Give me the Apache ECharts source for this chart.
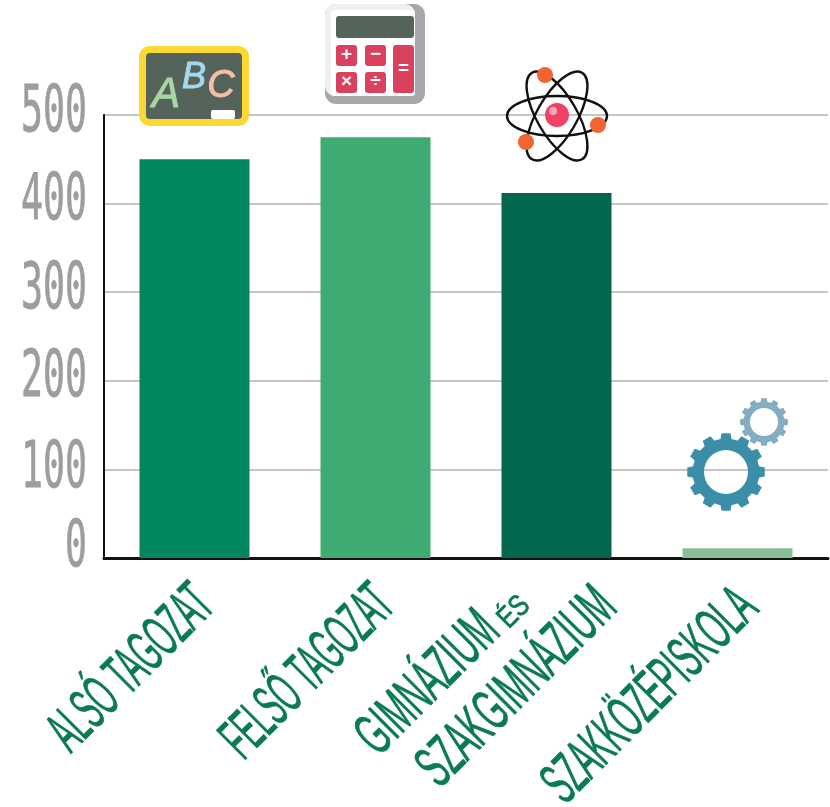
<!DOCTYPE html>
<html><head><meta charset="utf-8">
<style>html,body{margin:0;padding:0;background:#fff}#c{width:830px;height:807px}</style>
<script src="https://cdn.jsdelivr.net/npm/echarts@6/dist/echarts.min.js"></script>
</head><body><div id="c"></div>
<script>
const categories = ['ALSÓ TAGOZAT', 'FELSŐ TAGOZAT', 'GIMNÁZIUM ÉS SZAKGIMNÁZIUM', 'SZAKKÖZÉPISKOLA'];
const values = [450, 475, 412, 11];
const barColors = ['#02865f', '#3faa72', '#02674c', '#89bd94'];
const yTicks = [0, 100, 200, 300, 400, 500];
const yNudge = [-9, 1, -1, -1, -1, -1];

const chart = echarts.init(document.getElementById('c'), null, {renderer: 'canvas'});
chart.setOption({
  animation: false,
  backgroundColor: '#fff',
  grid: {left: 104, right: 2, top: 115, bottom: 249},
  xAxis: {type: 'category', data: categories,
    axisLine: {lineStyle: {color: '#111', width: 3}}, axisTick: {show: false}, axisLabel: {show: false}},
  yAxis: {type: 'value', min: 0, max: 500, interval: 100,
    axisLine: {show: true, lineStyle: {color: '#111', width: 2}}, axisTick: {show: false}, axisLabel: {show: false},
    splitLine: {lineStyle: {color: '#c6c6c6', width: 2}}},
  series: [{type: 'bar', barWidth: 110, data: values.map((v, i) => ({value: v, itemStyle: {color: barColors[i]}}))}]
});

function gear(cx, cy, R, r, hole, n, fill, z) {
  const out = [{type: 'ring', shape: {cx, cy, r0: hole, r: r + 0.5}, style: {fill}, z}];
  const st = Math.PI * 2 / n;
  for (let i = 0; i < n; i++) {
    const a = i * st;
    const points = [[-0.33, r], [-0.22, R], [0.22, R], [0.33, r]].map(([f, rad]) =>
      [cx + rad * Math.cos(a + f * st), cy + rad * Math.sin(a + f * st)]);
    out.push({type: 'polygon', shape: {points}, style: {fill}, z});
  }
  return out;
}
const rect = (x, y, w, h, fill, rr) => ({type: 'rect', shape: {x, y, width: w, height: h, r: rr || 0}, style: {fill}, z: 20});
const glyph = (text, x, y, size, fill, extra, st) => Object.assign({type: 'text', x, y, z: 22,
  style: Object.assign({text, x: 0, y: 0, fontSize: size, fontFamily: 'Liberation Sans', fontWeight: 'bold', fill, align: 'center', verticalAlign: 'middle'}, st || {})}, extra || {});
const orbit = deg => ({type: 'ellipse', x: 557, y: 116, rotation: deg * Math.PI / 180,
  shape: {cx: 0, cy: 0, rx: 50, ry: 20}, style: {fill: 'none', stroke: '#111', lineWidth: 2.4}, z: 20});
const disc = (cx, cy, r, fill) => ({type: 'circle', shape: {cx, cy, r}, style: {fill}, z: 21});

const g = [];
// chalkboard
g.push(rect(139, 46, 110, 80, '#fdd835', 11), rect(146, 53, 96, 66, '#55645a', 4), rect(211, 110, 24, 9, '#ffffff', 2));
const hand = c => ({fontStyle: 'italic', fontWeight: 'normal', fontFamily: 'Liberation Sans', stroke: c, lineWidth: 1});
g.push(glyph('A', 166, 95, 42, '#a9d5a5', {}, hand('#a9d5a5')), glyph('B', 194, 78, 36, '#a5d8ef', {}, hand('#a5d8ef')), glyph('C', 221, 86, 38, '#f6bda8', {}, hand('#f6bda8')));
// calculator
g.push(rect(325, 4, 100, 100, '#a6a8ab', 11), rect(325, 4, 90, 92, '#eff0f0', 10), rect(331, 10, 84, 86, '#ffffff', 3));
g.push(rect(336, 16, 78, 22, '#55645a', 3));
const red = '#d9415f';
g.push(rect(336, 45, 21, 21, red, 3), rect(365, 45, 21, 21, red, 3), rect(336, 72, 21, 21, red, 3), rect(365, 72, 21, 21, red, 3), rect(393, 45, 21, 48, red, 3));
g.push(glyph('+', 346.5, 55, 19, '#fff'), glyph('−', 375.5, 55, 19, '#fff'), glyph('×', 346.5, 82, 19, '#fff'), glyph('÷', 375.5, 82, 19, '#fff'), glyph('=', 403.5, 69, 19, '#fff'));
// atom
g.push(orbit(0), orbit(60), orbit(-60));
g.push(disc(557, 115, 12, '#ee4266'), disc(553, 111, 4, '#f9a8ba'));
g.push(disc(545, 75, 8, '#f26532'), disc(598, 125, 8, '#f26532'), disc(526, 142, 8, '#f26532'));
// gears
g.push(...gear(764, 422, 24, 20, 14, 12, '#83adc0', 20));
g.push(...gear(726, 472, 39, 33, 22, 12, '#3b8ea8', 21));

// y tick labels
yTicks.forEach((t, i) => {
  const y = chart.convertToPixel({yAxisIndex: 0}, t);
  g.push({type: 'text', x: 87, y: y + yNudge[i], scaleX: 0.57, z: 15,
    style: {text: String(t), x: 0, y: 0, fontFamily: 'DejaVu Sans Mono', fontSize: 64, fill: '#9b9da0', stroke: '#9b9da0', lineWidth: 0.8, align: 'right', verticalAlign: 'middle'}});
});
// category labels: fitted to a target run length along the 45 degree slant
const ctx = document.createElement('canvas').getContext('2d');
function catLabel(cat, dx, y, text, size, len) {
  const x = chart.convertToPixel({xAxisIndex: 0}, cat) + dx;
  ctx.font = size + 'px "Liberation Sans"';
  const sx = len / ctx.measureText(text).width;
  g.push({type: 'text', x, y, rotation: Math.PI / 4, scaleX: sx, z: 15,
    style: {text, x: 0, y: 0, fontFamily: 'Liberation Sans', fontSize: size, fill: '#0a7a50', stroke: '#0a7a50', lineWidth: 0.8, align: 'right', verticalAlign: 'middle'}});
}
catLabel(categories[0], 11, 596, 'ALSÓ TAGOZAT', 60, 207);
catLabel(categories[1], 10, 596, 'FELSŐ TAGOZAT', 60, 217);
catLabel(categories[2], -66, 622, 'GIMNÁZIUM', 60, 175);
catLabel(categories[2], -31, 601, 'ÉS', 30, 32);
catLabel(categories[2], 51, 598, 'SZAKGIMNÁZIUM', 60, 254);
catLabel(categories[3], 11, 599, 'SZAKKÖZÉPISKOLA', 60, 276);
chart.setOption({graphic: g});
</script></body></html>
